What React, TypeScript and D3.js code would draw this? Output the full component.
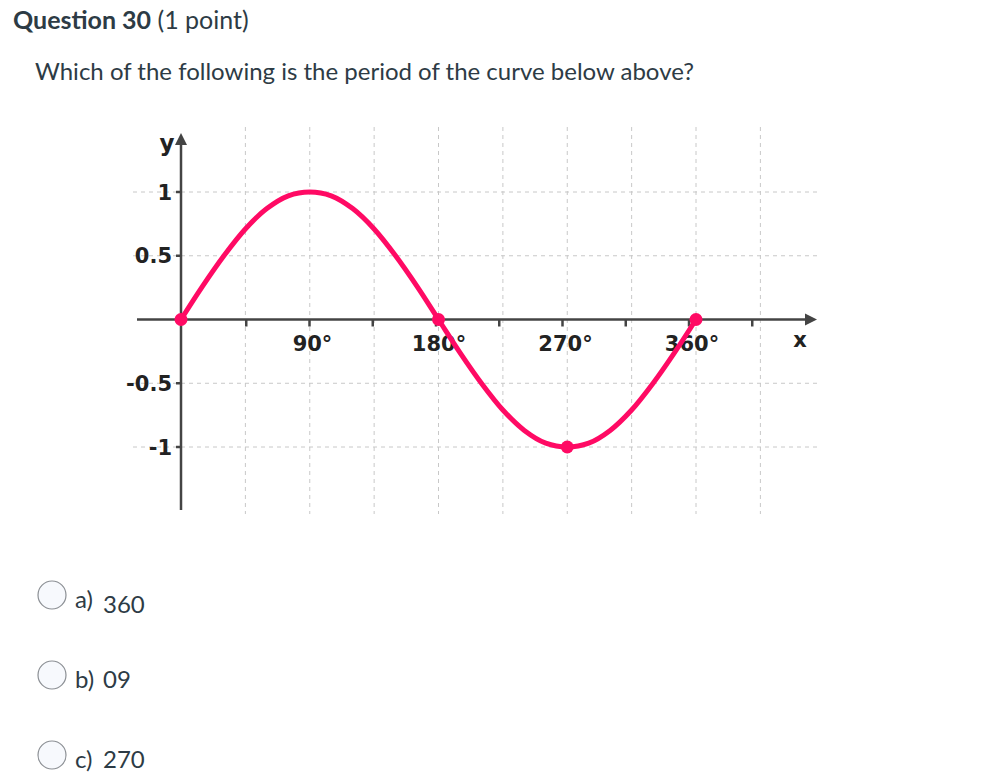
import React from 'react';
import * as d3 from 'd3';

const curveDegrees = [0, 15, 30, 45, 60, 75, 90, 105, 120, 135, 150, 165, 180, 195, 210, 225, 240, 255, 270, 285, 300, 315, 330, 345, 360];
const curveValues = [0, 0.26, 0.5, 0.71, 0.87, 0.97, 1, 0.97, 0.87, 0.71, 0.5, 0.26, 0, -0.26, -0.5, -0.71, -0.87, -0.97, -1, -0.97, -0.87, -0.71, -0.5, -0.26, 0];
const markedDegrees = [0, 180, 270, 360];
const markedValues = [0, 0, -1, 0];
const xTickValues = [90, 180, 270, 360];
const xTickLabels = ['90°', '180°', '270°', '360°'];
const xMinorTicks = [45, 135, 225, 315, 405];
const gridDegrees = [45, 90, 135, 180, 225, 270, 315, 360, 405];
const yTickValues = [1, 0.5, -0.5, -1];
const yTickLabels = ['1', '0.5', '-0.5', '-1'];
const optionLetters = ['a)', 'b)', 'c)'];
const optionValues = ['360', '09', '270'];

const PINK = '#ff0a64';
const AXIS = '#444';
const TEXT = '#2d3b45';

export default function App() {
  const x = d3.scaleLinear().domain([0, 360]).range([181, 696]);
  const xl = d3.scaleLinear().domain([0, 360]).range([183, 689]);
  const y = d3.scaleLinear().domain([-1, 1]).range([447, 192]);
  const pts = curveDegrees.map((d, i) => [d, curveValues[i]] as [number, number]);
  const line = d3.line<[number, number]>().x(d => x(d[0])).y(d => y(d[1])).curve(d3.curveCatmullRom);
  const optY = d3.scaleLinear().domain([0, 2]).range([595, 755]);
  const chartFont = '"DejaVu Sans", sans-serif';

  return (
    <svg width={987} height={779} style={{ position: 'absolute', left: 0, top: 0, background: '#fff' }}>
      <text x={13} y={29} fontFamily="Lato" fontSize={25} fill={TEXT}>
        <tspan fontWeight={700}>Question 30</tspan>
        <tspan> (1 point)</tspan>
      </text>
      <text x={35} y={80} fontFamily="Lato" fontSize={24} fill={TEXT}>
        Which of the following is the period of the curve below above?
      </text>

      {/* grid */}
      <g stroke="#c8c8c8" strokeWidth={1} strokeDasharray="4,4">
        {gridDegrees.map(d => (
          <line key={'v' + d} x1={x(d)} x2={x(d)} y1={127} y2={514} />
        ))}
        {yTickValues.map(v => (
          <line key={'h' + v} x1={133} x2={820} y1={y(v)} y2={y(v)} />
        ))}
      </g>

      {/* axes */}
      <line x1={137} x2={808} y1={y(0)} y2={y(0)} stroke={AXIS} strokeWidth={2.5} />
      <path d={`M817,${y(0)} L805,${y(0) - 6} L805,${y(0) + 6} Z`} fill={AXIS} />
      <line x1={x(0)} x2={x(0)} y1={510} y2={142} stroke={AXIS} strokeWidth={2.5} />
      <path d={`M${x(0)},133 L${x(0) - 6},145 L${x(0) + 6},145 Z`} fill={AXIS} />
      <text x={167} y={151} textAnchor="middle" fontFamily={chartFont} fontWeight={700} fontSize={23} fill="#222">y</text>
      <text x={800} y={347} textAnchor="middle" fontFamily={chartFont} fontWeight={700} fontSize={21} fill="#222">x</text>

      {/* y ticks */}
      {yTickValues.map((v, i) => (
        <g key={'yt' + v}>
          <line x1={176} x2={x(0)} y1={y(v)} y2={y(v)} stroke={AXIS} strokeWidth={2.5} />
          <text x={172} y={y(v)} dy="0.36em" textAnchor="end" fontFamily={chartFont} fontWeight={700} fontSize={21} fill="#222">{yTickLabels[i]}</text>
        </g>
      ))}

      {/* x ticks */}
      {[...xMinorTicks, ...xTickValues].map(d => (
        <line key={'xt' + d} x1={xl(d)} x2={xl(d)} y1={y(0)} y2={y(0) + 7} stroke={AXIS} strokeWidth={2.5} />
      ))}
      {xTickValues.map((d, i) => (
        <text key={'xl' + d} x={xl(d) + 3} y={351} textAnchor="middle" fontFamily={chartFont} fontWeight={700} fontSize={21} fill="#222">{xTickLabels[i]}</text>
      ))}

      {/* curve */}
      <path d={line(pts) || ''} fill="none" stroke={PINK} strokeWidth={5} strokeLinecap="round" />
      {markedDegrees.map((d, i) => (
        <circle key={'m' + d} cx={x(d)} cy={y(markedValues[i])} r={6.5} fill={PINK} />
      ))}

      {/* options */}
      {optionLetters.map((l, i) => (
        <g key={'o' + i}>
          <circle cx={52} cy={optY(i)} r={14} fill="#f7f9fd" stroke="#8b8f94" strokeWidth={1.2} />
          <text x={75} y={optY(i) + 13} fontFamily="Lato" fontSize={24} fill={TEXT}>{l}</text>
          <text x={103} y={optY(i) + (i === 0 ? 18 : 13)} fontFamily="Lato" fontSize={24} fill={TEXT}>{optionValues[i]}</text>
        </g>
      ))}
    </svg>
  );
}
